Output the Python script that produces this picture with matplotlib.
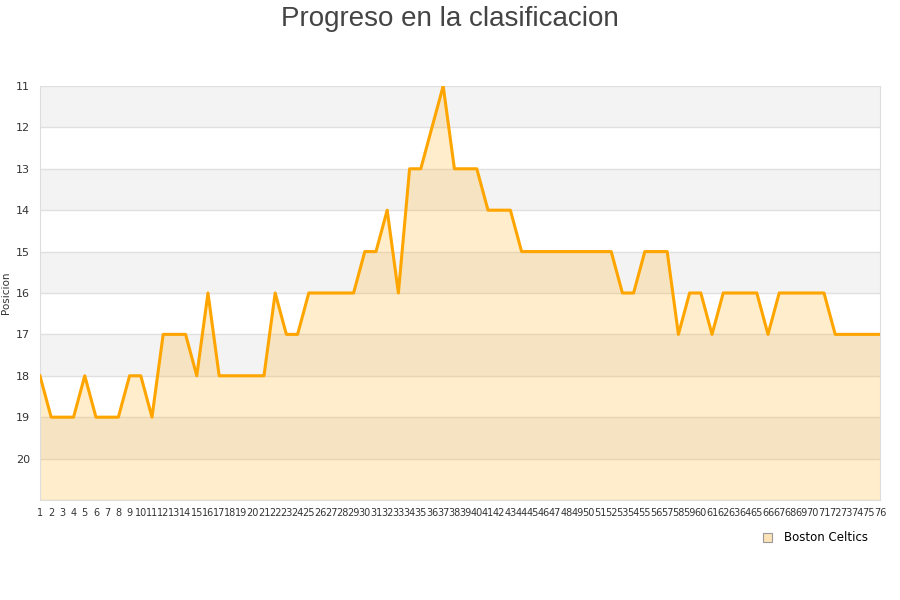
import matplotlib
matplotlib.use("Agg")
import matplotlib.pyplot as plt
from matplotlib.patches import Patch

jornadas = list(range(1, 77))
posiciones = [18, 19, 19, 19, 18, 19, 19, 19, 18, 18,
              19, 17, 17, 17, 18, 16, 18, 18, 18, 18,
              18, 16, 17, 17, 16, 16, 16, 16, 16, 15,
              15, 14, 16, 13, 13, 12, 11, 13, 13, 13,
              14, 14, 14, 15, 15, 15, 15, 15, 15, 15,
              15, 15, 16, 16, 15, 15, 15, 17, 16, 16,
              17, 16, 16, 16, 16, 17, 16, 16, 16, 16,
              16, 17, 17, 17, 17, 17]
y_ticks = list(range(11, 21))
equipo = "Boston Celtics"

fig = plt.figure(figsize=(9, 6), dpi=100)
ax = fig.add_axes([0.0444, 0.1667, 0.9334, 0.69])

# bandas alternas de fondo
for y in range(11, 21):
    if (y - 11) % 2 == 0:
        ax.axhspan(y, y + 1, color="#f3f3f3", zorder=0, lw=0)
for y in range(11, 22):
    ax.axhline(y, color="#e0e0e0", lw=1, zorder=1)

ax.fill_between(jornadas, posiciones, 21, color="#ffa500", alpha=0.2, lw=0, zorder=2)
ax.plot(jornadas, posiciones, color="#ffa500", lw=2.2, zorder=3)

ax.set_xlim(1, 76)
ax.set_ylim(21, 11)
ax.set_xticks(jornadas)
ax.set_xticklabels([str(j) for j in jornadas], fontsize=7, color="#333333")
ax.set_yticks(y_ticks)
ax.set_yticklabels([str(y) for y in y_ticks], fontsize=8, color="#333333")
ax.tick_params(length=0, pad=7)
ax.tick_params(axis="x", pad=6)
ax.set_ylabel("Posicion", fontsize=7.5, color="#333333")
ax.yaxis.set_label_coords(-0.034, 0.5)

ax.spines["top"].set_visible(False)
for s in ["left", "right", "bottom"]:
    ax.spines[s].set_color("#dddddd")

fig.suptitle("Progreso en la clasificacion", fontsize=20, color="#444444", y=0.99,
             family="Liberation Sans")

handle = Patch(facecolor="#fde3b8", edgecolor="#999999", lw=0.8)
fig.legend([handle], [equipo], loc="upper left", bbox_to_anchor=(0.836, 0.132),
           frameon=False, fontsize=8.5, handlelength=0.8, handleheight=0.8,
           handletextpad=1.0)

fig.savefig("out.png", dpi=100)
